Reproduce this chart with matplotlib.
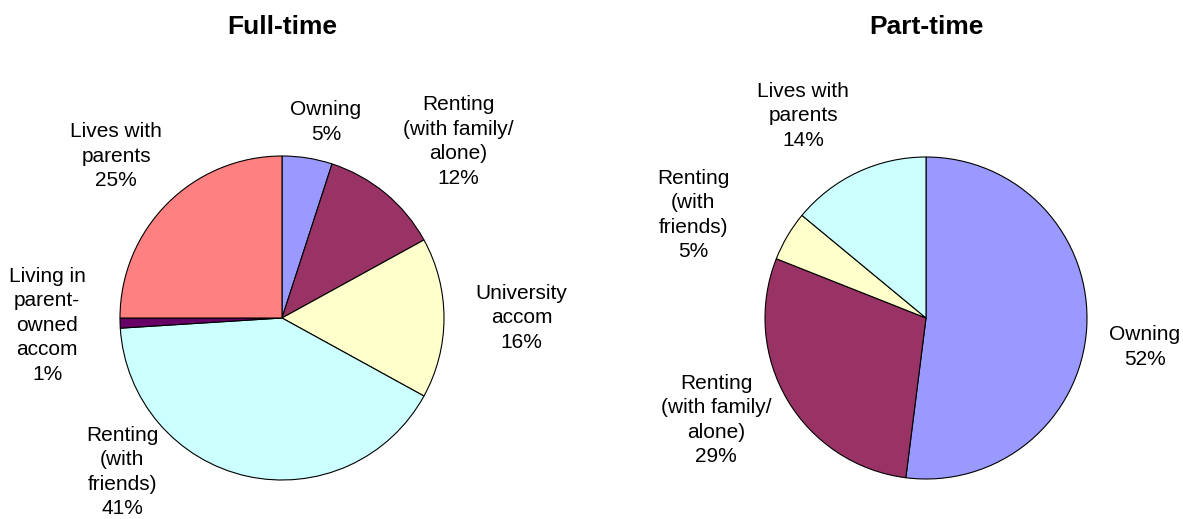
import numpy as np
import matplotlib
matplotlib.use("Agg")
import matplotlib.pyplot as plt

plt.rcParams['font.family'] = ['Liberation Sans', 'DejaVu Sans']

# data
ft_labels = ['Owning', 'Renting\n(with family/\nalone)', 'University\naccom',
             'Renting\n(with\nfriends)', 'Living in\nparent-\nowned\naccom',
             'Lives with\nparents']
ft_values = [5, 12, 16, 41, 1, 25]

pt_labels = ['Owning', 'Renting\n(with family/\nalone)', 'Renting\n(with\nfriends)',
             'Lives with\nparents']
pt_values = [52, 29, 5, 14]

colors = ['#9999FF', '#993366', '#FFFFCC', '#CCFFFF', '#660066', '#FF8080']

# label placement: distance from centre (in radii) and angle nudge (deg, clockwise)
ft_label_dist = [1.24, 1.54, 1.48, 1.37, 1.45, 1.43]
ft_label_nudge = [3.6, 5.4, 0, 33.5, 0, -0.7]
pt_label_dist = [1.37, 1.45, 1.58, 1.47]
pt_label_nudge = [3.9, 4.7, -6.7, -6.0]

W, H = 1183, 519
fig = plt.figure(figsize=(W / 100, H / 100), dpi=100)


def draw_pie(ax, values, labels, dist, nudge, title, cx, r, x0, x1):
    wedges, _ = ax.pie(values, colors=colors[:len(values)], startangle=90,
                       counterclock=False, radius=1,
                       wedgeprops=dict(edgecolor='black', linewidth=0.8))
    for w, lab, v, d, n in zip(wedges, labels, values, dist, nudge):
        mid = (w.theta1 + w.theta2) / 2 - n
        a = np.deg2rad(mid)
        ax.text(d * np.cos(a), d * np.sin(a), f'{lab}\n{v}%', ha='center',
                va='center', fontsize=15, linespacing=1.37)
    cy = 318
    ax.set_xlim((x0 - cx) / r, (x1 - cx) / r)
    ax.set_ylim(-(H - cy) / r, cy / r)
    ax.set_aspect('auto')
    ax.axis('off')
    fig.text(cx / W, 1 - 27 / H, title, ha='center', va='center',
             fontsize=19, fontweight='bold')


ax1 = fig.add_axes([0, 0, 591 / W, 1])
draw_pie(ax1, ft_values, ft_labels, ft_label_dist, ft_label_nudge,
         'Full-time', 282, 162, 0, 591)

ax2 = fig.add_axes([591 / W, 0, 1 - 591 / W, 1])
draw_pie(ax2, pt_values, pt_labels, pt_label_dist, pt_label_nudge,
         'Part-time', 926, 161, 591, W)

fig.savefig('out.png', dpi=100, facecolor='white')
